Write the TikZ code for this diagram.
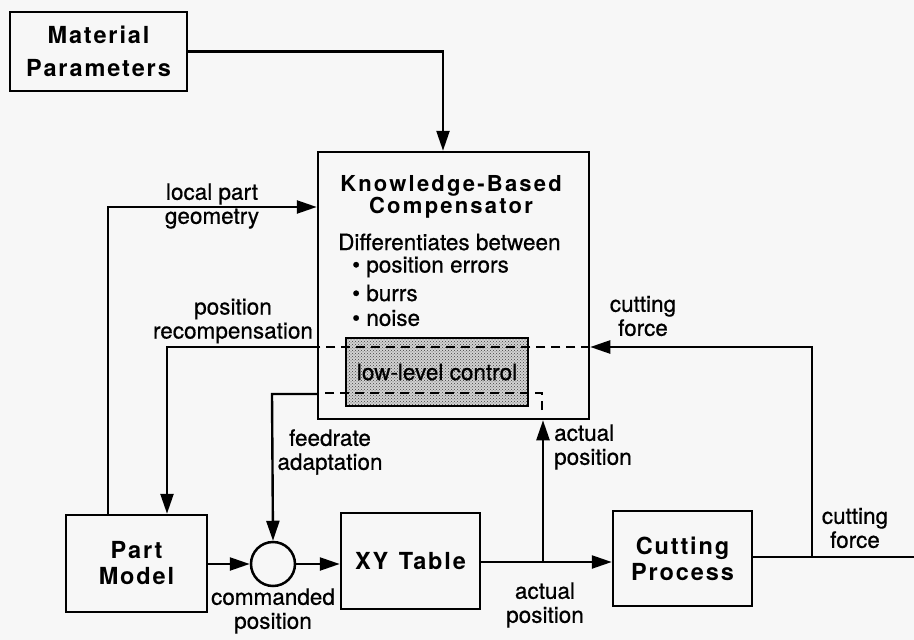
\documentclass[tikz,border=0pt]{standalone}
\usepackage{fontspec}
\setmainfont{TeX Gyre Heros}
\usetikzlibrary{arrows.meta,patterns,calc}
\definecolor{paper}{HTML}{F7F7F7}

\begin{document}
\begin{tikzpicture}[x=1pt,y=-1pt,
  line width=2.4pt,
  box/.style={draw, line width=2.5pt, inner sep=0pt, align=center,
    font=\fontsize{23.5}{26}\selectfont\bfseries\addfontfeature{LetterSpace=8}},
  lbl/.style={font=\fontsize{22.5}{24}\selectfont\addfontfeature{FakeBold=0.6}, align=center, inner sep=0pt},
  txt/.style={font=\fontsize{22.5}{24}\selectfont\addfontfeature{FakeBold=0.6}, inner sep=0pt, anchor=west},
  arr/.style={-{Triangle[length=20pt,width=13pt]}},
  dashline/.style={dash pattern=on 9pt off 6pt},
]
\fill[paper] (0,0) rectangle (914,640);
\useasboundingbox (0,0) rectangle (914,640);

% blocks
\node[box, minimum width=177pt, minimum height=79pt, font=\fontsize{23.5}{33}\selectfont\bfseries\addfontfeature{LetterSpace=8}]
  (mat) at (98.5,51.5) {Material\\Parameters};
\node[draw, line width=2.5pt, minimum width=271pt, minimum height=267pt, inner sep=0pt] (kbc) at (453.5,285.5) {};
\node[draw, line width=2.5pt, minimum width=182pt, minimum height=68pt, inner sep=0pt,
      preaction={fill=gray!35}, pattern=crosshatch dots, pattern color=black!75] (llcbox) at (437,372) {};
\node[lbl] (llc) at (437,372) {low-level control};
\node[box, minimum width=141pt, minimum height=97pt] (part) at (136.5,563.5) {Part\\Model};
\node[draw, circle, line width=2.5pt, minimum size=44pt, inner sep=0pt] (sum) at (273,564) {};
\node[box, minimum width=139pt, minimum height=96pt] (xy) at (410.5,561) {XY\hspace{0.45em}Table};
\node[box, minimum width=139pt, minimum height=95pt] (cut) at (682.5,558.5) {Cutting\\Process};

% compensator text
\node[font=\fontsize{22}{22}\selectfont\bfseries\addfontfeature{LetterSpace=10}, align=center, inner sep=0pt]
  (title) at (451,197) {Knowledge-Based\\Compensator};
\node[txt] (diff) at (337,242) {Differentiates between};
\node[txt] (b1) at (351,267) {• position errors};
\node[txt] (b2) at (351,293) {• burrs};
\node[txt] (b3) at (351,318) {• noise};

% routing points
\coordinate (j) at (543,562);
\coordinate (fk) at (812,557);
\coordinate (fout) at (914,557);
\coordinate (fin) at (812,347);
\coordinate (up) at (167,347);
\coordinate (fd) at (272,394);
\coordinate (ap) at (542,410);

% material parameters to compensator
\draw[arr] (mat.east) -| (kbc.north -| 443,0);
% local part geometry
\draw[arr] (part.north -| 108,0) |- (kbc.west |- 0,207);
% main chain
\draw[arr] (part.east |- sum) -- (sum.west);
\draw[arr] (sum.east) -- (sum.east -| xy.west);
\draw[arr] (xy.east |- j) -- (j -| cut.west);
\draw (cut.east |- fk) -- (fout);
% actual position back to compensator
\draw[arr] (j) -- (j |- kbc.south);
\draw[dashline] (ap) -- (ap |- 0,393) -- (kbc.west |- 0,393);
% cutting force back to compensator
\draw[arr] (fk) -- (fin) -- (kbc.east |- fin);
\draw[dashline] (kbc.east |- fin) -- (kbc.west |- fin);
% position recompensation
\draw[arr] (kbc.west |- fin) -- (up) -- (up |- part.north);
% feedrate adaptation
\draw[arr] (kbc.west |- fd) -- (fd) -- (sum.north);

% labels
\node[lbl] (l1) at (212,206) {local part\\geometry};
\node[lbl] (l2) at (233,321) {position\\recompensation};
\node[lbl] (l3) at (330,452) {feedrate\\adaptation};
\node[lbl, align=left, anchor=west] (l4) at (553,447) {actual\\position};
\node[lbl] (l5) at (545,605) {actual\\position};
\node[lbl] (l6) at (273,611) {commanded\\position};
\node[lbl] (l7) at (643,316) {cutting\\force};
\node[lbl] (l8) at (855,528) {cutting\\force};
\end{tikzpicture}
\end{document}
